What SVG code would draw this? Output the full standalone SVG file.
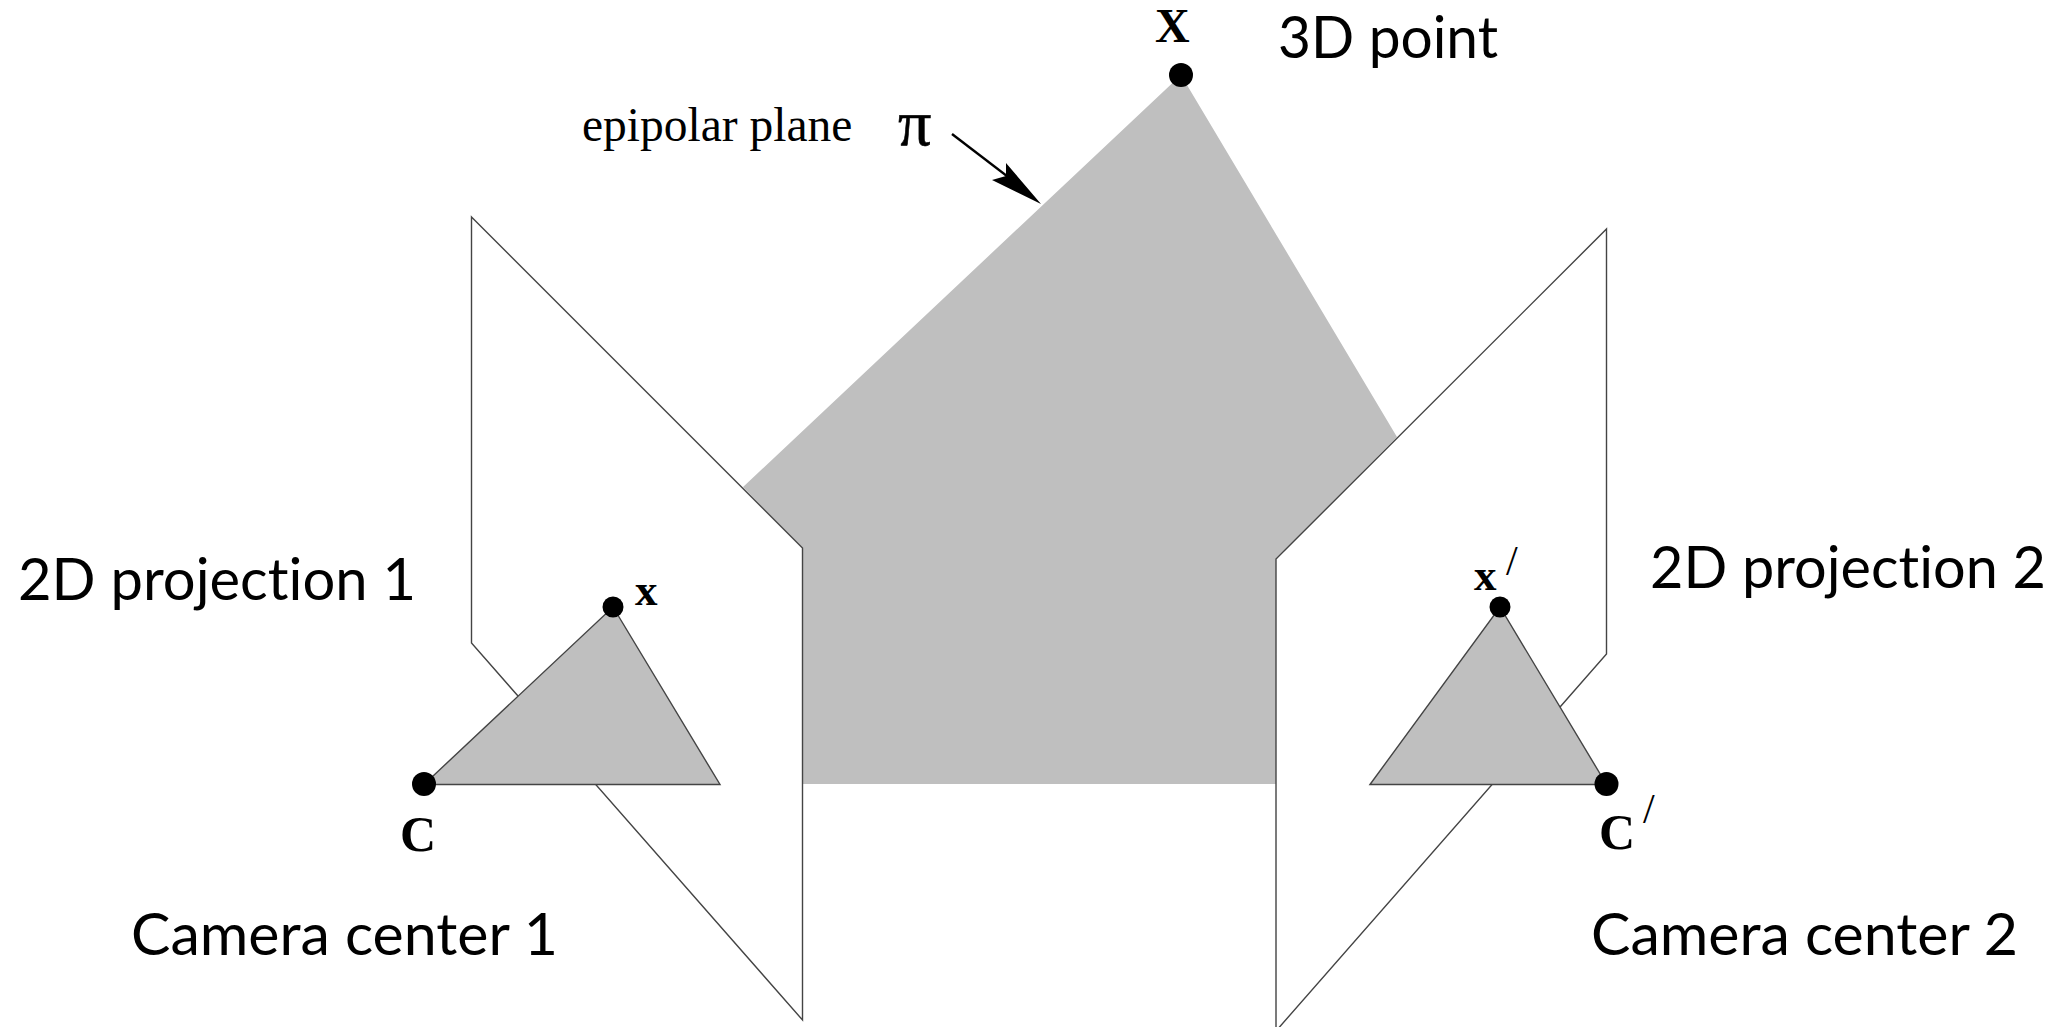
<svg xmlns="http://www.w3.org/2000/svg" width="2069" height="1027" viewBox="0 0 2069 1027">
<style>
.l{font-family:"Lato","Open Sans",sans-serif;font-size:58px;fill:#000;font-variant-ligatures:none}
.s{font-family:"Liberation Serif","Times New Roman",serif;fill:#000}
.b{font-weight:bold}
.p{font-size:42px}
.e{stroke:#444;stroke-width:1.4;stroke-linejoin:miter}
.g{fill:#bfbfbf}
.w{fill:#fff}
.d{fill:#000}
</style>
<rect width="2069" height="1027" fill="#fff"/>
<g id="epipolar-plane"><polygon class="g" points="1181,75 1397,437 1276,559 1276,784 802,784 802,548 743,487"/></g>
<g id="image-plane-1"><polygon class="w e" points="471.5,217 802.5,548 802.5,1020 471.5,643"/></g>
<g id="image-plane-2"><polygon class="w e" points="1606.5,229 1606.5,654 1276,1031 1276,559"/></g>
<g id="triangle-1"><polygon class="g e" points="424,784.5 613,607 720,784.5"/></g>
<g id="triangle-2"><polygon class="g e" points="1370,784.5 1500,607 1606.5,784.5"/></g>
<g id="point-X"><circle class="d" cx="1181" cy="75" r="12"/><text class="s b" x="1155" y="42" font-size="48">X</text></g>
<g id="point-x"><circle class="d" cx="613" cy="607" r="10.5"/><text class="s b" x="635" y="605" font-size="45">x</text></g>
<g id="point-x-prime"><circle class="d" cx="1500" cy="607" r="10.5"/><text class="s b" x="1474" y="590" font-size="45">x</text><text class="s p" x="1506" y="575">/</text></g>
<g id="point-C"><circle class="d" cx="424" cy="784" r="12"/><text class="s b" x="400" y="851" font-size="50">C</text></g>
<g id="point-C-prime"><circle class="d" cx="1606.5" cy="784" r="12"/><text class="s b" x="1599" y="849" font-size="50">C</text><text class="s p" x="1643" y="823">/</text></g>
<g id="labels">
<text class="l" x="1278" y="58" textLength="220" lengthAdjust="spacingAndGlyphs">3D point</text>
<text class="l" x="18" y="600" textLength="398" lengthAdjust="spacingAndGlyphs">2D projection 1</text>
<text class="l" x="1650" y="588" textLength="396" lengthAdjust="spacingAndGlyphs">2D projection 2</text>
<text class="l" x="131" y="955" textLength="427" lengthAdjust="spacingAndGlyphs">Camera center 1</text>
<text class="l" x="1591" y="955" textLength="427" lengthAdjust="spacingAndGlyphs">Camera center 2</text>
<text class="s" x="582" y="141" font-size="47.5">epipolar plane</text>
<text class="s" x="898" y="145" font-size="66" stroke="#000" stroke-width="0.6">π</text>
</g>
<g id="connectors">
<line x1="952" y1="134" x2="1020" y2="186" stroke="#000" stroke-width="2.4"/>
<polygon class="d" points="1041,204 992,180 1006,176 1006,163"/>
</g>
</svg>
